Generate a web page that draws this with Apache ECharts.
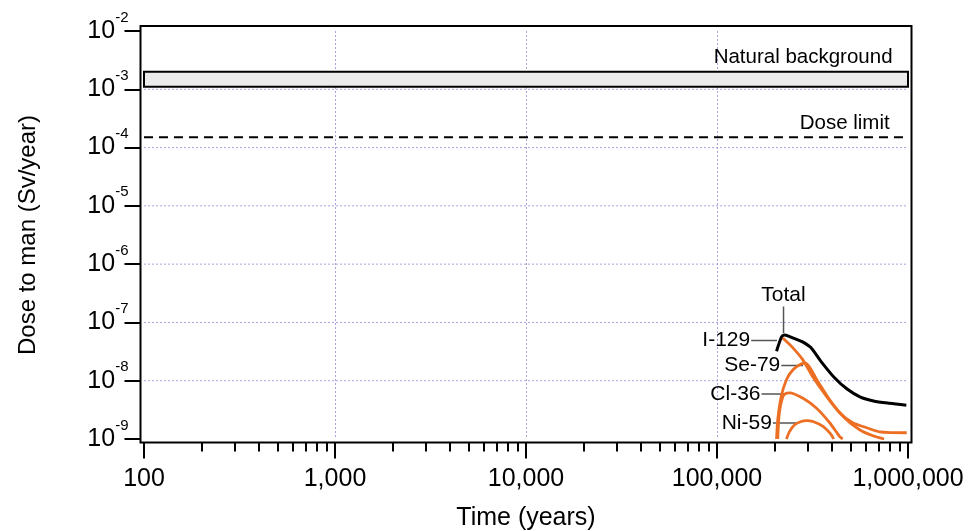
<!DOCTYPE html>
<html>
<head>
<meta charset="utf-8">
<title>Dose to man</title>
<script src="https://cdn.jsdelivr.net/npm/echarts@6/dist/echarts.min.js"></script>
<style>
  html, body { margin: 0; padding: 0; background: #fff; }
  #chart { width: 976px; height: 531px; }
</style>
</head>
<body>
<div id="chart"></div>
<script>
// Time axis (years) and dose axis (Sv/year), both logarithmic
const xMin = 100, xMax = 1000000;
const yMin = 1e-9, yMax = 1e-2;
const minorTickValues = [];
for (let dec = 100; dec < xMax; dec *= 10) {
  for (let k = 2; k <= 9; k++) minorTickValues.push(dec * k);
}
// Inner horizontal grid lines, one per decade
const yGridValues = [1e-8, 1e-7, 1e-6, 1e-5, 1e-4, 1e-3];

// Reference levels
const naturalBackground = [1.1e-3, 2e-3];
const doseLimit = 1.5e-4;

// Total dose
const totalTime = [205000, 218000, 226000, 240000, 265000, 285000, 310000, 350000, 410000, 480000, 560000, 660000, 800000, 980000];
const totalDose = [3.2e-8, 5.7e-8, 6.1e-8, 5.7e-8, 5.0e-8, 4.5e-8, 3.7e-8, 2.15e-8, 1.15e-8, 7.2e-9, 5.3e-9, 4.5e-9, 4.1e-9, 3.8e-9];

// Individual nuclides
const i129Time = [221000, 249000, 281000, 317000, 376000, 440000, 513000, 608000, 711000, 985000];
const i129Dose = [5.4e-8, 3.7e-8, 2.3e-8, 1.17e-8, 5.3e-9, 2.8e-9, 1.9e-9, 1.56e-9, 1.33e-9, 1.28e-9];

const se79Time = [205000, 208000, 217000, 231000, 250000, 277000, 291000, 333000, 389000, 466000, 558000, 650000, 750000];
const se79Dose = [1e-9, 2.15e-9, 5.4e-9, 1.04e-8, 1.54e-8, 1.95e-8, 2.0e-8, 1.04e-8, 4.7e-9, 2.3e-9, 1.44e-9, 1.15e-9, 1.0e-9];

const cl36Time = [208000, 212000, 221000, 230000, 240000, 282000, 331000, 389000, 439000, 455000];
const cl36Dose = [1e-9, 2.8e-9, 5.3e-9, 6.1e-9, 6.2e-9, 5.0e-9, 3.4e-9, 1.9e-9, 1.1e-9, 1e-9];

const ni59Time = [231000, 240000, 255000, 276000, 294000, 318000, 359000, 397000, 408000];
const ni59Dose = [1e-9, 1.35e-9, 1.76e-9, 2.0e-9, 2.06e-9, 2.0e-9, 1.64e-9, 1.18e-9, 1e-9];

// Curve names with leader lines (time, dose at each end)
const leaderNames = ['Total', 'I-129', 'Se-79', 'Cl-36', 'Ni-59'];
const leaderFrom = [[223000, 1.87e-7], [151000, 4.89e-8], [217000, 1.82e-8], [171000, 5.9e-9], [196000, 1.88e-9]];
const leaderTo = [[223000, 6.5e-8], [206000, 4.89e-8], [282000, 1.82e-8], [231000, 5.9e-9], [262000, 1.88e-9]];

// Texts for the reference levels (time, dose of the right end)
const levelNames = ['Natural background', 'Dose limit'];
const levelAnchors = [[830000, 3.55e-3], [802000, 2.62e-4]];

const pair = (xs, ys) => xs.map((x, i) => [x, ys[i]]);

const FONT = 'Liberation Sans, Arial, sans-serif';
const ORANGE = '#ec6f24';
const GRID_COLOR = '#a7a3df';
const GRID = { left: 144, right: 68, top: 31, bottom: 92, outerBoundsMode: 'none', containLabel: false };
const PAD = 3.5;   // gap between the frame and the plotting area
const TOP_PAD = 5;

const chart = echarts.init(document.getElementById('chart'), null, { renderer: 'canvas' });

const textStyle = (size) => ({
  color: '#000', fontSize: size, fontFamily: FONT, opacity: 1,
  textBorderWidth: 0, textShadowBlur: 0
});

const series = [];

function curve(name, data, color, width) {
  return {
    name, type: 'line', data, smooth: 0.25, symbol: 'none', clip: true,
    lineStyle: { color, width }, itemStyle: { color }, silent: true, z: 5
  };
}

// Horizontal grid lines across the full time range
yGridValues.forEach(v => {
  series.push({
    type: 'line', data: [[xMin, v], [xMax, v]], symbol: 'none', silent: true, z: 1,
    lineStyle: { color: GRID_COLOR, type: [2, 2], width: 1 }
  });
});

// Dose limit, also carrying the natural background band
series.push({
  type: 'line', data: [[xMin, doseLimit], [xMax, doseLimit]], symbol: 'none', silent: true,
  lineStyle: { color: '#000', width: 2, type: [9, 6] }, z: 3,
  markArea: {
    silent: true,
    itemStyle: { color: '#ebebeb', borderColor: '#000', borderWidth: 2, opacity: 1 },
    data: [[{ coord: [xMin, naturalBackground[1]] }, { coord: [xMax, naturalBackground[0]] }]]
  }
});

series.push(Object.assign(curve('Total', pair(totalTime, totalDose), '#000', 3), { z: 6 }));
series.push(curve('I-129', pair(i129Time, i129Dose), ORANGE, 2.8));
series.push(curve('Se-79', pair(se79Time, se79Dose), ORANGE, 2.8));
series.push(curve('Cl-36', pair(cl36Time, cl36Dose), ORANGE, 2.8));
series.push(curve('Ni-59', pair(ni59Time, ni59Dose), ORANGE, 2.8));

leaderNames.forEach((name, i) => {
  series.push({
    type: 'line', data: [leaderFrom[i], leaderTo[i]], symbol: 'none', silent: true,
    lineStyle: { color: '#555', width: 1.5 }, z: 4
  });
});

series.push({
  type: 'scatter', silent: true, symbolSize: 0, itemStyle: { color: '#000' }, z: 7,
  data: leaderNames.map((name, i) => ({
    value: leaderFrom[i],
    label: Object.assign({
      show: true, formatter: name, position: i === 0 ? 'top' : 'left', distance: 1
    }, textStyle(21))
  })).concat(levelNames.map((name, i) => ({
    value: levelAnchors[i],
    label: Object.assign({
      show: true, formatter: name, position: 'left', distance: 0
    }, textStyle(20.5))
  })))
});

chart.setOption({
  animation: false,
  backgroundColor: '#fff',
  grid: GRID,
  xAxis: [
    {
      type: 'log', min: xMin, max: xMax, logBase: 10, offset: PAD,
      name: 'Time (years)', nameLocation: 'middle', nameGap: 63,
      nameTextStyle: textStyle(25),
      axisLine: { show: false },
      axisTick: { show: true, inside: false, length: 16, lineStyle: { color: '#000', width: 2 } },
      axisLabel: Object.assign({
        margin: 24, hideOverlap: false, formatter: v => Number(v).toLocaleString('en-US')
      }, textStyle(25)),
      splitLine: {
        show: true, showMinLine: false, showMaxLine: false,
        lineStyle: { color: GRID_COLOR, type: [2, 2], width: 1 }
      },
      minorTick: { show: false }
    },
    {
      type: 'log', min: xMin, max: xMax, logBase: 10, offset: PAD, position: 'bottom',
      axisLine: { show: false }, axisLabel: { show: false }, splitLine: { show: false },
      axisTick: { show: true, length: 9, customValues: minorTickValues, lineStyle: { color: '#000', width: 2 } }
    }
  ],
  yAxis: [
    {
      type: 'log', min: yMin, max: yMax, logBase: 10, offset: PAD,
      name: 'Dose to man (Sv/year)', nameLocation: 'middle', nameGap: 100, nameRotate: 90,
      nameTextStyle: textStyle(24),
      axisLine: { show: false },
      axisTick: { show: true, length: 16, lineStyle: { color: '#000', width: 2 } },
      axisLabel: {
        margin: 12, fontFamily: FONT, color: '#000',
        formatter: v => '{b|10}{s|' + Math.round(Math.log10(v)) + '}',
        rich: {
          b: { fontSize: 25, fontFamily: FONT, color: '#000', lineHeight: 42 },
          s: { fontSize: 15, fontFamily: FONT, color: '#000', verticalAlign: 'top' }
        }
      },
      splitLine: { show: false }
    }
  ],
  series
});

// Plot frame drawn from the grid rectangle
const gridRect = chart.getModel().getComponent('grid').coordinateSystem.getRect();
chart.setOption({
  graphic: [{
    type: 'rect', silent: true, z: 10,
    shape: {
      x: gridRect.x - PAD, y: gridRect.y - TOP_PAD,
      width: gridRect.width + 2 * PAD, height: gridRect.height + TOP_PAD + PAD
    },
    style: { fill: 'none', stroke: '#000', lineWidth: 2 }
  }]
});
</script>
</body>
</html>
